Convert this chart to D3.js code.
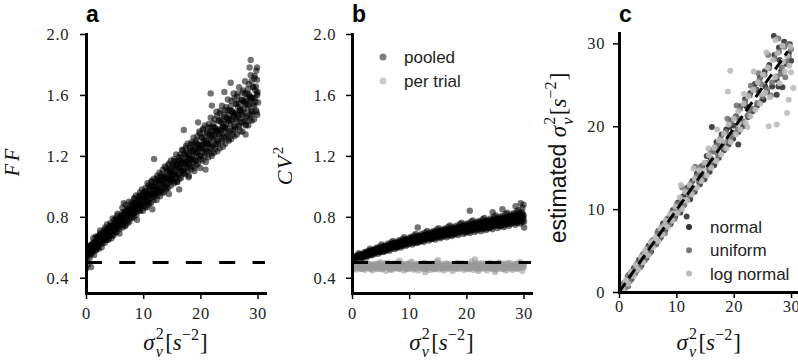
<!DOCTYPE html>
<html><head><meta charset="utf-8">
<script src="https://cdn.jsdelivr.net/npm/d3@7"></script>
<style>body{margin:0;background:#fff}svg{display:block}</style>
</head><body><svg id="chart" width="798" height="364"></svg>
<script>
// ---------------- data ----------------
const xTicksAB = [0, 10, 20, 30];
const yTicksAB = [0.4, 0.8, 1.2, 1.6, 2.0];
const ticksC = [0, 10, 20, 30];
const legendB = ["pooled", "per trial"];
const legendC = ["normal", "uniform", "log normal"];
const refLevel = 0.5;
const identityLine = [[0, 0], [29.4, 29.0]];

// panel a: Fano factor vs sigma^2 (outer cloud)
const ffPoints = [
[0.04,.55],[0.1,.58],[0.17,.52],[0.25,.57],[0.31,.60],[0.4,.49],[0.47,.56],[0.55,.59],[0.63,.53],[0.71,.61],[0.8,.56],[0.88,.47],[0.95,.58],[0.02,.46],
[1.05,.62],[1.12,.57],[1.2,.60],[1.27,.66],[1.33,.59],[1.42,.55],[1.5,.63],[1.56,.61],[1.64,.67],[1.73,.58],[1.8,.64],[1.9,.60],
[2.03,.67],[2.09,.62],[2.18,.65],[2.24,.59],[2.32,.68],[2.41,.64],[2.47,.71],[2.57,.63],[2.63,.66],[2.73,.60],[2.81,.69],[2.91,.65],
[3.02,.66],[3.13,.71],[3.19,.68],[3.28,.63],[3.34,.73],[3.45,.67],[3.51,.70],[3.61,.65],[3.67,.75],[3.77,.69],[3.84,.72],[3.94,.66],
[4.04,.73],[4.1,.68],[4.16,.71],[4.27,.76],[4.33,.70],[4.43,.66],[4.49,.74],[4.59,.72],[4.67,.79],[4.74,.71],[4.84,.68],[4.92,.75],
[5.02,.76],[5.12,.72],[5.19,.79],[5.29,.74],[5.35,.70],[5.45,.77],[5.51,.82],[5.61,.75],[5.69,.73],[5.76,.78],[5.86,.69],[5.93,.77],
[6.03,.79],[6.11,.75],[6.18,.81],[6.26,.78],[6.36,.86],[6.42,.73],[6.53,.80],[6.59,.77],[6.69,.83],[6.77,.79],[6.84,.74],[6.94,.88],
[7.03,.82],[7.13,.78],[7.19,.85],[7.3,.81],[7.36,.76],[7.46,.84],[7.52,.90],[7.63,.82],[7.69,.87],[7.79,.79],[7.86,.83],[7.96,.86],
[8.03,.84],[8.09,.88],[8.19,.82],[8.26,.86],[8.36,.80],[8.42,.92],[8.52,.85],[8.59,.89],[8.69,.83],[8.75,.94],[8.86,.87],[8.92,.78],
[9.04,.90],[9.1,.86],[9.21,.93],[9.27,.88],[9.37,.84],[9.43,.96],[9.54,.89],[9.6,.92],[9.7,.87],[9.76,.98],[9.87,.90],[9.93,.94],
[10.03,.93],[10.09,.89],[10.19,.96],[10.26,.91],[10.36,.86],[10.42,.99],[10.53,.93],[10.59,.97],[10.69,.90],[10.76,1.02],[10.86,.94],[10.92,.88],
[11.03,.97],[11.13,.92],[11.19,1.00],[11.29,.95],[11.36,.89],[11.44,1.03],[11.54,.96],[11.6,1.00],[11.71,.93],[11.77,.98],[11.87,1.05],[11.94,.95],
[12.03,1.00],[12.11,.95],[12.18,1.03],[12.28,.98],[12.34,.91],[12.45,1.07],[12.51,1.00],[12.61,.96],[12.67,1.04],[12.78,.99],[12.84,1.09],[12.94,.97],
[13.04,1.04],[13.1,.99],[13.2,1.07],[13.27,1.02],[13.37,.96],[13.43,1.11],[13.53,1.03],[13.6,1.06],[13.7,1.00],[13.76,1.13],[13.87,1.05],[13.93,.98],
[14.03,1.07],[14.12,1.02],[14.18,1.10],[14.28,1.05],[14.35,.99],[14.45,1.14],[14.51,1.07],[14.62,1.11],[14.68,1.03],[14.78,1.09],[14.85,1.17],[14.95,1.04],
[15.04,1.10],[15.1,1.05],[15.2,1.14],[15.27,1.08],[15.37,1.02],[15.44,1.18],[15.54,1.10],[15.61,1.14],[15.71,1.06],[15.77,1.21],[15.88,1.11],[15.94,1.03],
[16.02,1.14],[16.13,1.08],[16.19,1.17],[16.29,1.12],[16.35,1.05],[16.46,1.21],[16.52,1.13],[16.62,1.19],[16.68,1.10],[16.79,1.24],[16.85,1.15],[16.95,1.09],
[17.04,1.17],[17.1,1.11],[17.21,1.21],[17.27,1.15],[17.38,1.08],[17.44,1.25],[17.54,1.16],[17.61,1.20],[17.71,1.12],[17.78,1.28],[17.88,1.18],[17.94,1.06],
[18.03,1.21],[18.11,1.14],[18.19,1.25],[18.28,1.18],[18.35,1.11],[18.46,1.29],[18.52,1.20],[18.63,1.24],[18.69,1.16],[18.8,1.32],[18.86,1.21],[18.96,1.10],
[19.02,1.24],[19.12,1.17],[19.2,1.29],[19.29,1.22],[19.36,1.14],[19.47,1.33],[19.53,1.23],[19.64,1.27],[19.7,1.19],[19.81,1.36],[19.87,1.25],[19.97,1.12],
[20.04,1.27],[20.1,1.20],[20.21,1.32],[20.27,1.25],[20.38,1.17],[20.44,1.37],[20.55,1.29],[20.61,1.30],[20.72,1.22],[20.78,1.40],[20.89,1.28],[20.95,1.16],
[21.03,1.30],[21.13,1.23],[21.19,1.36],[21.3,1.28],[21.36,1.19],[21.47,1.41],[21.53,1.31],[21.64,1.35],[21.7,1.25],[21.81,1.45],[21.87,1.32],[21.98,1.20],
[22.02,1.34],[22.12,1.26],[22.2,1.39],[22.29,1.31],[22.37,1.22],[22.46,1.44],[22.54,1.34],[22.63,1.38],[22.71,1.28],[22.8,1.49],[22.88,1.36],[22.97,1.23],
[23.04,1.37],[23.1,1.29],[23.21,1.43],[23.27,1.34],[23.38,1.25],[23.44,1.48],[23.55,1.37],[23.61,1.42],[23.72,1.31],[23.78,1.53],[23.89,1.39],[23.95,1.26],
[24.03,1.41],[24.13,1.32],[24.19,1.47],[24.3,1.38],[24.36,1.28],[24.47,1.52],[24.53,1.41],[24.64,1.45],[24.7,1.34],[24.81,1.57],[24.87,1.43],[24.98,1.30],
[25.02,1.44],[25.12,1.35],[25.2,1.50],[25.29,1.41],[25.37,1.31],[25.46,1.56],[25.54,1.44],[25.63,1.49],[25.71,1.37],[25.8,1.61],[25.88,1.46],[25.97,1.33],
[26.04,1.48],[26.1,1.39],[26.21,1.54],[26.27,1.44],[26.38,1.34],[26.44,1.59],[26.55,1.47],[26.61,1.52],[26.72,1.40],[26.78,1.65],[26.89,1.50],[26.95,1.36],
[27.03,1.51],[27.13,1.42],[27.19,1.57],[27.3,1.47],[27.36,1.36],[27.47,1.63],[27.53,1.51],[27.64,1.56],[27.7,1.43],[27.81,1.69],[27.87,1.54],[27.98,1.40],
[28.02,1.55],[28.12,1.45],[28.2,1.61],[28.29,1.51],[28.37,1.40],[28.46,1.67],[28.54,1.54],[28.63,1.59],[28.71,1.47],[28.8,1.73],[28.88,1.57],[28.97,1.43],
[29.04,1.58],[29.1,1.49],[29.21,1.65],[29.27,1.54],[29.38,1.44],[29.44,1.71],[29.55,1.58],[29.61,1.63],[29.72,1.50],[29.78,1.76],[29.89,1.61],[29.95,1.47],
[28.8,1.83],[21.8,1.61],[17.1,1.37],[11.9,1.18],[6.6,0.89],[27.9,1.34],[20.9,1.11],[16.3,0.98],[18.0,1.07],[14.5,0.95],[11.6,0.85],[25.3,1.68],[29.9,1.78],
[30.0,1.62],[30.1,1.55],[29.9,1.70],[28.6,1.78],[24.2,1.62],[22.0,1.53],[19.6,1.42]
];
// panel a: core of the cloud
const ffPointsCore = [
[0.07,.546],[0.18,.585],[0.29,.564],[0.39,.605],[0.5,.549],[0.61,.590],[0.72,.573],[0.83,.614],[0.94,.556],
[1.07,.610],[1.18,.578],[1.29,.635],[1.39,.605],[1.5,.629],[1.61,.580],[1.72,.627],[1.83,.604],[1.94,.667],
[2.07,.600],[2.18,.640],[2.29,.664],[2.39,.625],[2.5,.693],[2.61,.640],[2.72,.675],[2.83,.623],[2.94,.662],
[3.07,.648],[3.18,.693],[3.29,.666],[3.39,.716],[3.5,.647],[3.61,.696],[3.72,.674],[3.83,.723],[3.94,.650],
[4.07,.717],[4.18,.676],[4.29,.746],[4.39,.708],[4.5,.737],[4.61,.675],[4.72,.732],[4.83,.703],[4.94,.780],
[5.07,.697],[5.18,.744],[5.29,.773],[5.39,.725],[5.5,.807],[5.61,.742],[5.72,.784],[5.83,.719],[5.94,.766],
[6.07,.748],[6.18,.802],[6.29,.769],[6.39,.828],[6.5,.745],[6.61,.803],[6.72,.775],[6.83,.834],[6.94,.746],
[7.07,.825],[7.18,.775],[7.29,.857],[7.39,.812],[7.5,.845],[7.61,.770],[7.72,.838],[7.83,.803],[7.94,.894],
[8.07,.793],[8.18,.849],[8.29,.884],[8.39,.825],[8.5,.923],[8.61,.843],[8.72,.894],[8.83,.814],[8.94,.870],
[9.07,.848],[9.18,.911],[9.29,.871],[9.39,.940],[9.5,.841],[9.61,.910],[9.72,.875],[9.83,.944],[9.94,.840],
[10.07,.932],[10.18,.873],[10.29,.968],[10.39,.915],[10.5,.953],[10.61,.865],[10.72,.943],[10.83,.902],[10.94,1.008],
[11.07,.890],[11.18,.954],[11.29,.994],[11.39,.925],[11.5,1.037],[11.61,.945],[11.72,1.003],[11.83,.910],[11.94,.974],
[12.07,.948],[12.18,1.020],[12.29,.974],[12.39,1.052],[12.5,.938],[12.61,1.017],[12.72,.976],[12.83,1.055],[12.94,.935],
[13.07,1.040],[13.18,.971],[13.29,1.080],[13.39,1.018],[13.5,1.061],[13.61,.960],[13.72,1.049],[13.83,1.001],[13.94,1.121],
[14.07,.987],[14.18,1.059],[14.29,1.104],[14.39,1.025],[14.5,1.151],[14.61,1.047],[14.72,1.112],[14.83,1.006],[14.94,1.078],
[15.07,1.047],[15.18,1.130],[15.29,1.076],[15.39,1.165],[15.5,1.034],[15.61,1.123],[15.72,1.077],[15.83,1.166],[15.94,1.028],
[16.07,1.147],[16.18,1.070],[16.29,1.191],[16.39,1.122],[16.5,1.170],[16.61,1.056],[16.72,1.155],[16.83,1.100],[16.94,1.236],
[17.07,1.084],[17.18,1.164],[17.29,1.213],[17.39,1.125],[17.5,1.266],[17.61,1.148],[17.72,1.221],[17.83,1.102],[17.94,1.182],
[18.07,1.147],[18.18,1.238],[18.29,1.178],[18.39,1.277],[18.5,1.131],[18.61,1.230],[18.72,1.177],[18.83,1.276],[18.94,1.122],
[19.07,1.254],[19.18,1.168],[19.29,1.302],[19.39,1.225],[19.5,1.278],[19.61,1.151],[19.72,1.260],[19.83,1.199],[19.94,1.349],
[20.07,1.180],[20.18,1.268],[20.29,1.323],[20.39,1.226],[20.5,1.380],[20.61,1.250],[20.72,1.329],[20.83,1.199],[20.94,1.286],
[21.07,1.247],[21.18,1.347],[21.29,1.282],[21.39,1.389],[21.5,1.228],[21.61,1.336],[21.72,1.279],[21.83,1.387],[21.94,1.217],
[22.07,1.362],[22.18,1.268],[22.29,1.413],[22.39,1.328],[22.5,1.386],[22.61,1.247],[22.72,1.366],[22.83,1.299],[22.94,1.463],
[23.07,1.278],[23.18,1.373],[23.29,1.432],[23.39,1.326],[23.5,1.496],[23.61,1.351],[23.72,1.438],[23.83,1.295],[23.94,1.391],
[24.07,1.347],[24.18,1.456],[24.29,1.384],[24.39,1.501],[24.5,1.324],[24.61,1.443],[24.72,1.380],[24.83,1.497],[24.94,1.311],
[25.07,1.469],[25.18,1.365],[25.29,1.526],[25.39,1.431],[25.5,1.494],[25.61,1.341],[25.72,1.472],[25.83,1.397],[25.94,1.578],
[26.07,1.375],[26.18,1.479],[26.29,1.542],[26.39,1.426],[26.5,1.610],[26.61,1.453],[26.72,1.547],[26.83,1.391],[26.94,1.495],
[27.07,1.448],[27.18,1.565],[27.29,1.486],[27.39,1.614],[27.5,1.422],[27.61,1.549],[27.72,1.481],[27.83,1.608],[27.94,1.406],
[28.07,1.576],[28.18,1.464],[28.29,1.637],[28.39,1.534],[28.5,1.602],[28.61,1.436],[28.72,1.578],[28.83,1.496],[28.94,1.691],
[29.07,1.472],[29.18,1.583],[29.29,1.652],[29.39,1.526],[29.5,1.724],[29.61,1.555],[29.72,1.656],[29.83,1.487],[29.94,1.599]
];

// panel b: CV^2 pooled
const cvPooled = [
[0.05,.528],[0.15,.517],[0.25,.540],[0.35,.523],[0.45,.534],[0.55,.512],[0.65,.536],[0.75,.525],[0.85,.545],[0.95,.520],
[1.04,.533],[1.15,.561],[1.26,.539],[1.34,.552],[1.46,.525],[1.55,.549],[1.66,.537],[1.74,.555],[1.86,.530],[1.95,.543],
[2.05,.557],[2.14,.543],[2.24,.570],[2.36,.550],[2.45,.563],[2.56,.537],[2.64,.566],[2.76,.553],[2.85,.577],[2.95,.547],
[3.04,.558],[3.16,.590],[3.25,.564],[3.35,.579],[3.44,.547],[3.54,.576],[3.65,.562],[3.75,.584],[3.86,.554],[3.94,.570],
[4.05,.582],[4.15,.565],[4.26,.597],[4.35,.573],[4.45,.589],[4.55,.558],[4.64,.592],[4.75,.576],[4.85,.604],[4.96,.569],
[5.04,.580],[5.15,.618],[5.25,.588],[5.36,.605],[5.45,.568],[5.56,.602],[5.65,.585],[5.74,.611],[5.85,.576],[5.95,.594],
[6.05,.605],[6.14,.586],[6.26,.623],[6.35,.596],[6.44,.613],[6.55,.578],[6.66,.617],[6.75,.599],[6.84,.631],[6.95,.591],
[7.04,.602],[7.16,.642],[7.25,.610],[7.34,.628],[7.46,.589],[7.55,.624],[7.65,.607],[7.74,.634],[7.86,.597],[7.95,.616],
[8.05,.627],[8.15,.607],[8.24,.646],[8.36,.617],[8.45,.636],[8.54,.599],[8.65,.639],[8.76,.621],[8.85,.655],[8.94,.612],
[9.05,.623],[9.14,.666],[9.26,.632],[9.35,.650],[9.44,.610],[9.55,.647],[9.66,.628],[9.75,.657],[9.84,.618],[9.95,.638],
[10.04,.649],[10.15,.627],[10.25,.668],[10.36,.638],[10.45,.658],[10.56,.618],[10.65,.661],[10.74,.641],[10.85,.677],[10.96,.632],
[11.05,.642],[11.15,.687],[11.24,.651],[11.35,.671],[11.46,.628],[11.55,.668],[11.64,.648],[11.76,.678],[11.85,.637],[11.95,.659],
[12.04,.668],[12.15,.645],[12.26,.689],[12.35,.656],[12.44,.677],[12.56,.636],[12.65,.681],[12.75,.660],[12.84,.698],[12.95,.651],
[13.05,.660],[13.14,.707],[13.25,.669],[13.36,.690],[13.45,.644],[13.54,.686],[13.66,.665],[13.75,.698],[13.86,.654],[13.95,.677],
[14.04,.685],[14.16,.661],[14.25,.707],[14.34,.673],[14.45,.695],[14.55,.651],[14.65,.699],[14.76,.677],[14.85,.717],[14.94,.667],
[15.05,.675],[15.15,.725],[15.24,.685],[15.35,.707],[15.46,.659],[15.55,.703],[15.64,.681],[15.75,.715],[15.86,.669],[15.95,.693],
[16.04,.701],[16.15,.676],[16.25,.724],[16.36,.689],[16.45,.712],[16.56,.666],[16.65,.716],[16.74,.693],[16.85,.735],[16.96,.682],
[17.05,.690],[17.14,.743],[17.26,.701],[17.35,.724],[17.44,.674],[17.55,.720],[17.66,.697],[17.75,.732],[17.84,.684],[17.95,.709],
[18.04,.717],[18.16,.691],[18.25,.742],[18.34,.704],[18.45,.728],[18.55,.680],[18.65,.733],[18.76,.709],[18.85,.753],[18.94,.698],
[19.05,.706],[19.15,.761],[19.24,.717],[19.35,.741],[19.46,.688],[19.55,.736],[19.64,.712],[19.75,.750],[19.86,.699],[19.95,.725],
[20.04,.733],[20.15,.705],[20.26,.758],[20.35,.719],[20.44,.744],[20.56,.694],[20.65,.749],[20.75,.724],[20.84,.769],[20.95,.712],
[21.05,.719],[21.14,.776],[21.25,.731],[21.36,.756],[21.45,.701],[21.54,.751],[21.66,.726],[21.75,.765],[21.85,.712],[21.96,.740],
[22.04,.747],[22.15,.718],[22.24,.773],[22.35,.732],[22.46,.759],[22.55,.706],[22.65,.764],[22.74,.737],[22.86,.785],[22.95,.725],
[23.05,.732],[23.14,.792],[23.26,.744],[23.35,.771],[23.44,.713],[23.56,.766],[23.65,.739],[23.75,.780],[23.84,.725],[23.95,.754],
[24.04,.761],[24.15,.731],[24.25,.789],[24.36,.746],[24.45,.774],[24.54,.719],[24.66,.779],[24.75,.751],[24.85,.801],[24.96,.739],
[25.05,.747],[25.14,.809],[25.26,.759],[25.35,.787],[25.44,.727],[25.55,.782],[25.65,.754],[25.76,.797],[25.85,.739],[25.94,.769],
[26.04,.777],[26.16,.746],[26.25,.806],[26.34,.762],[26.45,.790],[26.55,.733],[26.64,.795],[26.75,.767],[26.86,.819],[26.95,.754],
[27.05,.762],[27.15,.827],[27.24,.775],[27.36,.803],[27.45,.741],[27.54,.798],[27.66,.770],[27.75,.814],[27.84,.754],[27.95,.785],
[28.04,.793],[28.14,.761],[28.26,.823],[28.35,.777],[28.44,.807],[28.56,.748],[28.65,.812],[28.75,.783],[28.85,.837],[28.96,.769],
[29.05,.777],[29.15,.845],[29.24,.791],[29.35,.820],[29.46,.756],[29.55,.815],[29.64,.785],[29.75,.831],[29.86,.769],[29.95,.801],
[11.5,.730],[20.6,.840],[29.5,.890],[30.0,.880],[30.1,.730],[30.0,.810],[29.8,.860],[28.6,.870],[26.3,.850],[24.6,.830],[30.1,.770]
];
const cvPooledCore = [
[0.09,.517],[0.23,.530],[0.37,.515],[0.51,.529],[0.65,.538],[0.79,.525],[0.93,.537],
[1.09,.541],[1.23,.534],[1.37,.551],[1.51,.533],[1.65,.543],[1.79,.550],[1.93,.534],
[2.09,.548],[2.23,.562],[2.37,.547],[2.51,.558],[2.65,.544],[2.79,.567],[2.93,.557],
[3.09,.557],[3.23,.572],[3.37,.553],[3.51,.569],[3.65,.580],[3.79,.563],[3.93,.577],
[4.09,.581],[4.23,.572],[4.37,.591],[4.51,.569],[4.65,.581],[4.79,.588],[4.93,.569],
[5.09,.585],[5.23,.601],[5.37,.583],[5.51,.595],[5.65,.579],[5.79,.604],[5.93,.592],
[6.09,.593],[6.23,.609],[6.37,.587],[6.51,.606],[6.65,.616],[6.79,.598],[6.93,.612],
[7.09,.617],[7.23,.607],[7.37,.628],[7.51,.603],[7.65,.615],[7.79,.624],[7.93,.601],
[8.09,.619],[8.23,.637],[8.37,.616],[8.51,.629],[8.65,.610],[8.79,.640],[8.93,.625],
[9.09,.625],[9.23,.643],[9.37,.619],[9.51,.638],[9.65,.651],[9.79,.629],[9.93,.645],
[10.09,.650],[10.23,.637],[10.37,.661],[10.51,.632],[10.65,.647],[10.79,.656],[10.93,.630],
[11.09,.649],[11.23,.668],[11.37,.645],[11.51,.660],[11.65,.638],[11.79,.670],[11.93,.653],
[12.09,.653],[12.23,.673],[12.37,.645],[12.51,.667],[12.65,.680],[12.79,.656],[12.93,.674],
[13.09,.680],[13.23,.665],[13.37,.690],[13.51,.659],[13.65,.674],[13.79,.684],[13.93,.655],
[14.09,.676],[14.23,.697],[14.37,.671],[14.51,.686],[14.65,.662],[14.79,.697],[14.93,.679],
[15.09,.679],[15.23,.700],[15.37,.669],[15.51,.693],[15.65,.707],[15.79,.680],[15.93,.699],
[16.09,.706],[16.23,.689],[16.37,.717],[16.51,.682],[16.65,.698],[16.79,.709],[16.93,.677],
[17.09,.700],[17.23,.723],[17.37,.694],[17.51,.711],[17.65,.684],[17.79,.723],[17.93,.702],
[18.09,.702],[18.23,.725],[18.37,.692],[18.51,.717],[18.65,.732],[18.79,.703],[18.93,.724],
[19.09,.731],[19.23,.713],[19.37,.743],[19.51,.704],[19.65,.722],[19.79,.734],[19.93,.699],
[20.09,.724],[20.23,.749],[20.37,.717],[20.51,.735],[20.65,.706],[20.79,.748],[20.93,.726],
[21.09,.724],[21.23,.750],[21.37,.713],[21.51,.740],[21.65,.757],[21.79,.725],[21.93,.748],
[22.09,.754],[22.23,.734],[22.37,.767],[22.51,.725],[22.65,.744],[22.79,.756],[22.93,.719],
[23.09,.745],[23.23,.771],[23.37,.737],[23.51,.757],[23.65,.725],[23.79,.771],[23.93,.746],
[24.09,.744],[24.23,.772],[24.37,.732],[24.51,.762],[24.65,.780],[24.79,.745],[24.93,.770],
[25.09,.776],[25.23,.755],[25.37,.790],[25.51,.744],[25.65,.765],[25.79,.778],[25.93,.738],
[26.09,.766],[26.23,.795],[26.37,.758],[26.51,.780],[26.65,.745],[26.79,.794],[26.93,.767],
[27.09,.767],[27.23,.796],[27.37,.753],[27.51,.785],[27.65,.804],[27.79,.767],[27.93,.793],
[28.09,.801],[28.23,.778],[28.37,.816],[28.51,.767],[28.65,.789],[28.79,.803],[28.93,.760],
[29.09,.790],[29.23,.821],[29.37,.782],[29.51,.804],[29.65,.768],[29.79,.819],[29.93,.791]
];

// panel b: CV^2 per trial
const cvPerTrial = [
[0.07,.478],[0.24,.463],[0.41,.489],[0.59,.471],[0.76,.455],[0.93,.482],[1.07,.468],[1.24,.494],[1.41,.475],[1.59,.459],[1.76,.486],[1.93,.470],
[2.07,.481],[2.24,.452],[2.41,.474],[2.59,.497],[2.76,.466],[2.93,.479],[3.07,.461],[3.24,.488],[3.41,.473],[3.59,.450],[3.76,.484],[3.93,.469],
[4.07,.492],[4.24,.476],[4.41,.458],[4.59,.480],[4.76,.465],[4.93,.501],[5.07,.472],[5.24,.456],[5.41,.487],[5.59,.467],[5.76,.479],[5.93,.446],
[6.07,.483],[6.24,.470],[6.41,.495],[6.59,.462],[6.76,.477],[6.93,.453],[7.07,.490],[7.24,.474],[7.41,.460],[7.59,.485],[7.76,.468],[7.93,.499],
[8.07,.471],[8.24,.457],[8.41,.482],[8.59,.466],[8.76,.493],[8.93,.478],[9.07,.448],[9.24,.476],[9.41,.463],[9.59,.489],[9.76,.472],[9.93,.458],
[10.07,.486],[10.24,.469],[10.41,.505],[10.59,.475],[10.76,.454],[10.93,.481],[11.07,.467],[11.24,.491],[11.41,.473],[11.59,.447],[11.76,.484],[11.93,.470],
[12.07,.478],[12.24,.461],[12.41,.496],[12.59,.474],[12.76,.459],[12.93,.483],[13.07,.465],[13.24,.488],[13.41,.476],[13.59,.451],[13.76,.480],[13.93,.468],
[14.07,.494],[14.24,.472],[14.41,.457],[14.59,.485],[14.76,.463],[14.93,.502],[15.07,.477],[15.24,.455],[15.41,.479],[15.59,.466],[15.76,.490],[15.93,.471],
[16.07,.449],[16.24,.482],[16.41,.468],[16.59,.493],[16.76,.474],[16.93,.460],[17.07,.487],[17.24,.467],[17.41,.481],[17.59,.444],[17.76,.476],[17.93,.470],
[18.07,.489],[18.24,.463],[18.41,.498],[18.59,.475],[18.76,.458],[18.93,.484],[19.07,.469],[19.24,.492],[19.41,.473],[19.59,.452],[19.76,.480],[19.93,.466],
[20.07,.486],[20.24,.471],[20.41,.456],[20.59,.479],[20.76,.464],[20.93,.507],[21.07,.477],[21.24,.453],[21.41,.483],[21.59,.468],[21.76,.491],[21.93,.474],
[22.07,.445],[22.24,.482],[22.41,.466],[22.59,.495],[22.76,.472],[22.93,.459],[23.07,.488],[23.24,.470],[23.41,.478],[23.59,.450],[23.76,.485],[23.93,.467],
[24.07,.497],[24.24,.476],[24.41,.461],[24.59,.481],[24.76,.465],[24.93,.489],[25.07,.473],[25.24,.454],[25.41,.484],[25.59,.469],[25.76,.500],[25.93,.475],
[26.07,.457],[26.24,.480],[26.41,.464],[26.59,.492],[26.76,.471],[26.93,.448],[27.07,.486],[27.24,.468],[27.41,.479],[27.59,.462],[27.76,.494],[27.93,.474],
[28.07,.453],[28.24,.483],[28.41,.467],[28.59,.490],[28.76,.476],[28.93,.458],[29.07,.481],[29.24,.465],[29.41,.503],[29.59,.472],[29.76,.446],[29.93,.485],
[30.05,.470],[30.1,.490],[0.0,.490],[15.0,.515],[21.5,.520],[8.3,.512],[25.0,.438],[12.8,.437]
];
const cvPerTrialCore = [
[0.16,.470],[0.33,.484],[0.5,.462],[0.67,.491],[0.84,.476],[1.16,.481],[1.33,.466],[1.5,.488],[1.67,.457],[1.84,.473],
[2.16,.463],[2.33,.478],[2.5,.495],[2.67,.469],[2.84,.485],[3.16,.487],[3.33,.458],[3.5,.474],[3.67,.480],[3.84,.465],
[4.16,.472],[4.33,.490],[4.5,.460],[4.67,.477],[4.84,.494],[5.16,.459],[5.33,.483],[5.5,.470],[5.67,.496],[5.84,.475],
[6.16,.488],[6.33,.467],[6.5,.479],[6.67,.455],[6.84,.482],[7.16,.476],[7.33,.493],[7.5,.464],[7.67,.471],[7.84,.487],
[8.16,.461],[8.33,.475],[8.5,.489],[8.67,.468],[8.84,.480],[9.16,.485],[9.33,.472],[9.5,.457],[9.67,.492],[9.84,.466],
[10.16,.470],[10.33,.495],[10.5,.476],[10.67,.462],[10.84,.483],[11.16,.479],[11.33,.460],[11.5,.487],[11.67,.474],[11.84,.491],
[12.16,.466],[12.33,.482],[12.5,.471],[12.67,.497],[12.84,.458],[13.16,.490],[13.33,.474],[13.5,.463],[13.67,.481],[13.84,.469],
[14.16,.473],[14.33,.456],[14.5,.486],[14.67,.468],[14.84,.494],[15.16,.482],[15.33,.489],[15.5,.465],[15.67,.477],[15.84,.460],
[16.16,.468],[16.33,.479],[16.5,.492],[16.67,.461],[16.84,.475],[17.16,.484],[17.33,.463],[17.5,.476],[17.67,.488],[17.84,.470],
[18.16,.459],[18.33,.486],[18.5,.472],[18.67,.467],[18.84,.493],[19.16,.477],[19.33,.469],[19.5,.494],[19.67,.480],[19.84,.462],
[20.16,.491],[20.33,.475],[20.5,.461],[20.67,.473],[20.84,.484],[21.16,.465],[21.33,.482],[21.5,.478],[21.67,.496],[21.84,.457],
[22.16,.480],[22.33,.460],[22.5,.487],[22.67,.471],[22.84,.476],[23.16,.472],[23.33,.493],[23.5,.466],[23.67,.483],[23.84,.469],
[24.16,.486],[24.33,.464],[24.5,.475],[24.67,.458],[24.84,.490],[25.16,.461],[25.33,.478],[25.5,.492],[25.67,.474],[25.84,.481],
[26.16,.483],[26.33,.470],[26.5,.457],[26.67,.488],[26.84,.467],[27.16,.475],[27.33,.497],[27.5,.469],[27.67,.479],[27.84,.463],
[28.16,.468],[28.33,.481],[28.5,.485],[28.67,.462],[28.84,.492],[29.16,.490],[29.33,.466],[29.5,.473],[29.67,.484],[29.84,.471]
];

// panel c: estimated vs true sigma^2
const estNormal = [
[0.4,0.2],[0.9,1.1],[1.3,0.8],[1.8,2.1],[2.2,1.6],[2.6,2.9],[3.1,2.6],[3.5,3.9],[3.9,3.2],[4.3,4.6],[4.8,4.1],[5.2,5.6],[5.6,4.9],[6.1,6.3],[6.5,5.8],
[6.9,7.4],[7.3,6.6],[7.7,8.3],[8.1,7.5],[8.6,8.9],[9.0,8.2],[9.4,9.9],[9.8,9.1],[10.3,10.8],[10.7,9.6],[11.1,11.5],[11.8,9.1],[12.0,12.6],[12.4,11.2],
[12.8,13.4],[13.2,12.1],[13.6,14.3],[14.1,13.0],[14.5,15.2],[14.9,13.6],[15.3,16.4],[15.8,14.5],[16.2,17.0],[16.6,15.3],[17.0,18.1],[17.4,16.2],
[17.9,19.0],[18.3,17.1],[18.7,19.6],[19.1,17.8],[19.5,20.7],[19.9,18.5],[20.4,21.2],[20.8,19.3],[21.2,22.4],[21.6,20.0],[22.0,23.3],[22.5,21.1],
[22.9,24.0],[23.3,21.8],[23.7,25.1],[24.1,22.5],[24.6,25.9],[25.0,23.2],[25.4,26.6],[25.8,24.1],[26.2,27.4],[26.7,24.8],[27.1,28.6],[27.5,25.6],
[27.9,29.5],[28.3,26.7],[28.8,30.2],[29.2,27.5],[29.6,28.8],[30.0,27.9],[27.0,30.9],[28.0,28.0],[25.5,24.8],[24.0,24.4],[22.2,22.4],[20.0,20.1],
[18.0,17.9],[16.0,16.1],[14.0,14.2],[12.5,13.0],[10.0,10.3],[8.0,8.0],[6.0,6.1],[4.0,3.9],[2.0,2.0],[1.0,0.6],[20.8,17.8],[21.0,20.8],[16.2,19.9],
[25.2,23.2],[27.5,23.8],[27.8,24.8],[28.5,24.7],[29.8,29.9],[23.5,24.6],[19.3,19.9],[15.6,15.3],[11.5,11.8]
];
const estUniform = [
[0.6,0.9],[1.1,0.5],[1.5,1.9],[1.9,1.3],[2.4,2.6],[2.8,2.2],[3.2,3.5],[3.7,3.0],[4.1,4.5],[4.5,3.8],[5.0,5.3],[5.4,4.7],[5.8,6.2],[6.3,5.7],
[6.7,7.2],[7.1,6.4],[7.5,7.9],[8.0,7.1],[8.4,8.8],[8.8,8.1],[9.2,9.6],[9.7,8.8],[10.1,10.6],[10.5,9.9],[10.9,11.0],[11.4,10.5],[11.8,12.3],
[12.2,11.6],[12.6,13.1],[13.1,12.3],[13.5,13.9],[13.9,13.3],[14.3,15.1],[14.8,14.0],[15.2,15.6],[15.6,14.9],[16.0,16.9],[16.5,15.8],[16.9,17.6],
[17.3,16.4],[17.7,18.5],[18.2,17.4],[18.6,19.3],[19.0,18.2],[19.4,20.4],[19.9,19.2],[20.3,21.1],[20.7,19.6],[21.1,22.1],[21.6,20.6],[22.0,22.9],
[22.4,21.3],[22.8,23.7],[23.3,22.1],[23.7,24.5],[24.1,22.8],[24.5,25.6],[25.0,23.6],[25.4,26.2],[25.8,24.4],[26.2,27.0],[26.7,25.3],[27.1,28.1],
[27.5,26.0],[27.9,29.0],[28.4,27.1],[28.8,29.6],[29.2,27.8],[29.6,28.4],[30.0,29.3],[26.0,28.6],[27.8,30.6],[29.4,29.9],[28.2,26.3],[24.8,25.1],
[23.0,24.9],[21.0,20.9],[19.6,18.8],[17.5,17.8],[15.9,15.2],[13.8,14.1],[12.0,12.0],[10.4,10.1],[8.6,8.4],[7.0,7.0],[5.5,5.2],[3.8,3.6],[2.2,2.4],
[1.6,0.7],[11.0,12.6],[13.3,15.1],[18.9,20.9],[20.5,22.5],[24.3,26.4],[26.5,23.7],[29.0,25.9],[16.8,16.9],[22.6,21.9]
];
const estLogNormal = [
[0.2,0.5],[0.7,0.3],[1.2,1.4],[1.6,1.0],[2.0,2.4],[2.5,1.9],[2.9,3.3],[3.3,2.7],[3.8,4.2],[4.2,3.6],[4.6,5.1],[5.1,4.4],[5.5,6.0],[5.9,5.4],
[6.4,6.6],[6.8,6.1],[7.2,7.7],[7.6,6.9],[8.1,8.6],[8.5,7.8],[8.9,9.4],[9.3,8.6],[9.8,10.3],[10.2,9.5],[10.6,11.4],[11.0,10.0],[11.5,12.1],
[11.9,11.0],[12.3,12.9],[12.7,11.8],[13.2,13.7],[13.6,12.6],[14.0,14.7],[14.4,13.4],[14.9,15.6],[15.3,14.1],[15.7,16.5],[16.1,15.0],[16.6,17.4],
[17.0,15.8],[17.4,18.3],[17.8,16.6],[18.3,19.1],[18.7,17.3],[19.1,20.2],[19.5,18.1],[20.0,20.9],[20.4,19.0],[20.8,21.8],[21.2,19.6],[21.7,22.7],
[22.1,20.4],[22.5,23.6],[22.9,21.2],[23.4,24.4],[23.8,22.0],[24.2,25.3],[24.6,22.7],[25.1,26.2],[25.5,24.0],[25.9,27.1],[26.3,23.5],[26.8,28.0],
[27.2,25.9],[27.6,28.8],[28.0,25.2],[28.5,29.7],[28.9,26.6],[29.3,28.5],[29.7,27.3],[30.0,26.5],[19.4,26.7],[19.0,24.2],[21.8,23.9],[23.5,26.6],
[25.7,28.9],[27.3,30.4],[28.6,27.8],[29.9,29.6],[26.1,20.0],[27.5,20.2],[29.3,21.6],[29.6,23.2],[30.4,24.6],[24.9,23.9],[20.9,20.4],[18.0,18.2],
[16.3,16.0],[14.6,14.6],[12.9,12.6],[11.3,11.1],[9.6,9.5],[7.9,8.0],[6.2,6.3],[4.5,4.6],[2.8,2.6],[1.1,1.2],[15.6,17.3],[13.0,14.9],[17.1,19.6],
[22.4,19.9],[10.8,12.9]
];

// ---------------- drawing ----------------
const svg = d3.select('#chart');
const SERIF = "'Liberation Serif','DejaVu Serif',serif";
const SANS = "'Liberation Sans',Arial,sans-serif";

function mathLabel(text, size) {
  const sub = size * 0.7;
  text.append('tspan').attr('font-style', 'italic').text('σ');
  text.append('tspan').attr('font-size', sub).attr('dy', -size * 0.5).attr('dx', size * 0.05).text('2');
  text.append('tspan').attr('font-size', sub).attr('font-style', 'italic').attr('dy', size * 0.8).attr('dx', -sub * 0.5).text('ν');
  text.append('tspan').attr('dy', -size * 0.3).attr('dx', size * 0.1).text('[');
  text.append('tspan').attr('font-style', 'italic').text('s');
  text.append('tspan').attr('font-size', sub).attr('dy', -size * 0.42).text('−2');
  text.append('tspan').attr('dy', size * 0.42).attr('dx', size * 0.05).text(']');
}

function drawPanel(p) {
  const x = d3.scaleLinear().domain(p.xDomain).range(p.xRange);
  const y = d3.scaleLinear().domain(p.yDomain).range(p.yRange);
  const g = svg.append('g');
  const clipId = 'clip-' + p.id;
  g.append('clipPath').attr('id', clipId).append('rect')
    .attr('x', p.xRange[0]).attr('y', p.yRange[1])
    .attr('width', p.xRange[1] - p.xRange[0]).attr('height', p.yRange[0] - p.yRange[1]);
  const plot = g.append('g').attr('clip-path', `url(#${clipId})`);
  p.series.forEach(s => {
    plot.append('g').selectAll('circle').data(s.data).join('circle')
      .attr('cx', d => x(d[0])).attr('cy', d => y(d[1])).attr('r', s.r)
      .attr('fill', s.color).attr('fill-opacity', s.opacity);
  });
  if (p.line) {
    plot.append('path').attr('d', d3.line().x(d => x(d[0])).y(d => y(d[1]))(p.line))
      .attr('fill', 'none').attr('stroke', '#000').attr('stroke-width', 3)
      .attr('stroke-dasharray', p.dash);
  }
  const xa = g.append('g').attr('transform', `translate(0,${p.yRange[0]})`)
    .call(d3.axisBottom(x).tickValues(p.xTicks).tickFormat(d3.format('d')).tickSize(6).tickSizeOuter(0).tickPadding(p.xPad));
  const ya = g.append('g').attr('transform', `translate(${p.xRange[0]},0)`)
    .call(d3.axisLeft(y).tickValues(p.yTicks).tickFormat(p.yFormat).tickSize(6).tickSizeOuter(0).tickPadding(p.yPad));
  [xa, ya].forEach(a => {
    a.attr('font-family', SERIF).attr('font-size', 16.5);
    a.select('.domain').attr('stroke-width', 3).attr('stroke-linecap', 'square');
    a.selectAll('.tick line').attr('stroke-width', 1.5);
    a.selectAll('.tick text').attr('fill', '#222').attr('letter-spacing', 0.6);
  });
  const xl = g.append('text').attr('x', (p.xRange[0] + p.xRange[1]) / 2).attr('y', 350)
    .attr('text-anchor', 'middle').attr('font-family', SERIF).attr('font-size', 23).attr('fill', '#111');
  mathLabel(xl, 23);
  g.append('text').attr('x', p.xRange[0]).attr('y', 22).attr('font-family', SANS)
    .attr('font-weight', 'bold').attr('font-size', 23).attr('fill', '#000').text(p.id);
  return { x, y, g };
}

const fmt1 = d3.format('.1f');
const fullLine = (dom) => [[dom[0], refLevel], [dom[1], refLevel]];

// panel a
const domAB = [0, 31.3];
const pa = drawPanel({
  id: 'a', xDomain: domAB, xRange: [86, 265], yDomain: [0.3, 2.0], yRange: [293, 34],
  xTicks: xTicksAB, yTicks: yTicksAB, yFormat: fmt1, xPad: 8, yPad: 11,
  series: [{ data: ffPoints.concat(ffPointsCore), color: '#000', opacity: 0.55, r: 3.2 }],
  line: fullLine(domAB), dash: '16,17.3'
});
pa.g.append('text').attr('transform', 'translate(19,161) rotate(-90)').attr('text-anchor', 'middle')
  .attr('font-family', SERIF).attr('font-style', 'italic').attr('font-size', 20).attr('letter-spacing', 3)
  .attr('fill', '#111').text('FF');

// panel b
const pb = drawPanel({
  id: 'b', xDomain: domAB, xRange: [352, 531], yDomain: [0.3, 2.0], yRange: [293, 34],
  xTicks: xTicksAB, yTicks: yTicksAB, yFormat: fmt1, xPad: 8, yPad: 10,
  series: [{ data: cvPooled.concat(cvPooledCore), color: '#000', opacity: 0.55, r: 3.2 },
           { data: cvPerTrial.concat(cvPerTrialCore), color: '#999', opacity: 0.6, r: 3.2 }],
  line: fullLine(domAB), dash: '16,17.3'
});
const cvl = pb.g.append('text').attr('transform', 'translate(292,166) rotate(-90)').attr('text-anchor', 'middle')
  .attr('font-family', SERIF).attr('font-size', 22).attr('fill', '#111');
cvl.append('tspan').attr('font-style', 'italic').attr('letter-spacing', 1.5).text('CV');
cvl.append('tspan').attr('font-size', 15).attr('dy', -9).text('2');
const legB = [{ c: '#000', o: 0.5 }, { c: '#999', o: 0.5 }];
legendB.forEach((t, i) => {
  pb.g.append('circle').attr('cx', 383).attr('cy', 57 + i * 24).attr('r', 3.5)
    .attr('fill', legB[i].c).attr('fill-opacity', legB[i].o);
  pb.g.append('text').attr('x', 404).attr('y', 63 + i * 24).attr('font-family', SANS)
    .attr('font-size', 17).attr('fill', '#222').text(t);
});

// panel c
const colC = ['#333', '#777', '#bbb'];
const pc = drawPanel({
  id: 'c', xDomain: [0, 31.3], xRange: [619, 798.5], yDomain: [0, 31.25], yRange: [292, 33],
  xTicks: ticksC, yTicks: ticksC, yFormat: d3.format('d'), xPad: 2, yPad: 8,
  series: [{ data: estNormal, color: colC[0], opacity: 0.9, r: 3 },
           { data: estUniform, color: colC[1], opacity: 0.9, r: 3 },
           { data: estLogNormal, color: colC[2], opacity: 0.9, r: 3 }],
  line: identityLine, dash: '11,6'
});
const cyl = pc.g.append('text').attr('transform', 'translate(566,158) rotate(-90)').attr('text-anchor', 'middle')
  .attr('font-family', SERIF).attr('font-size', 23).attr('fill', '#111');
cyl.append('tspan').attr('font-family', SANS).text('estimated ');
mathLabel(cyl, 23);
legendC.forEach((t, i) => {
  pc.g.append('circle').attr('cx', 689).attr('cy', 227 + i * 23.3).attr('r', 3)
    .attr('fill', colC[i]);
  pc.g.append('text').attr('x', 710).attr('y', 233 + i * 23.3).attr('font-family', SANS)
    .attr('font-size', 17).attr('fill', '#222').text(t);
});
</script></body></html>
